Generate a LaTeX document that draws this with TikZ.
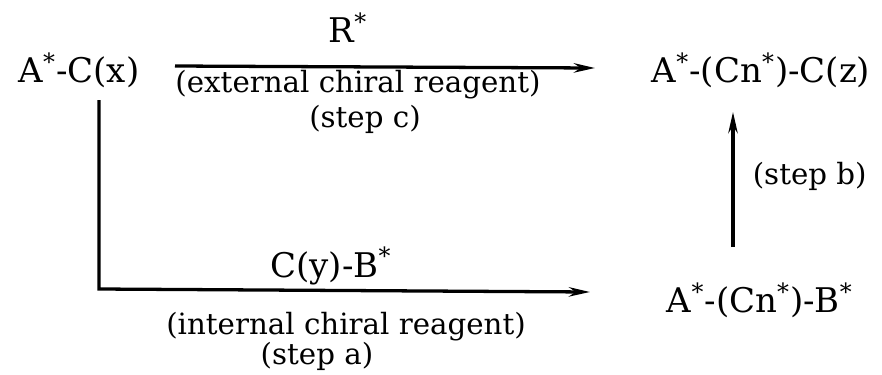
\documentclass[tikz,border=0pt]{standalone}
\usepackage{fontspec}
\setmainfont{DejaVu Serif}
\usetikzlibrary{arrows.meta}

\newcommand{\st}{\textsuperscript{*}}

\tikzset{
  chem/.style={font=\fontsize{14.5}{17}\selectfont, inner sep=1pt},
  lbl/.style={font=\fontsize{12.5}{15}\selectfont, inner sep=1pt},
  react/.style={line width=1.4pt, -{Stealth[length=9pt,width=4pt]}},
}

\begin{document}
\begin{tikzpicture}[x=0.015cm, y=-0.015cm]
\useasboundingbox (0,0) rectangle (882,374);

% compounds
\node[chem] (ac)  at (79,70)  {A\st-C(x)};
\node[chem] (acz) at (761,70) {A\st-(Cn\st)-C(z)};
\node[chem] (acb) at (760,300) {A\st-(Cn\st)-B\st};

% reagents and steps
\node[chem] (rs)    at (348,28)  {R\st};
\node[lbl]  (ext)   at (358,85)  {(external chiral reagent)};
\node[lbl]  (stepc) at (365,119) {(step c)};
\node[lbl, anchor=west] (stepb) at (750,176) {(step b)};
\node[chem] (cyb)   at (331,266) {C(y)-B\st};
\node[lbl]  (int)   at (346,327) {(internal chiral reagent)};
\node[lbl]  (stepa) at (317,356) {(step a)};

% arrows
\coordinate (c1) at (175,66);
\coordinate (c2) at (595,68);
\draw[react] (c1) -- (c2);

\coordinate (l1) at (99,100);
\coordinate (l2) at (99,289);
\coordinate (l3) at (590,292);
\draw[react] (l1) -- (l2) -- (l3);

\coordinate (b1) at (733,247);
\coordinate (b2) at (733,112);
\draw[react] (b1) -- (b2);

\end{tikzpicture}
\end{document}
